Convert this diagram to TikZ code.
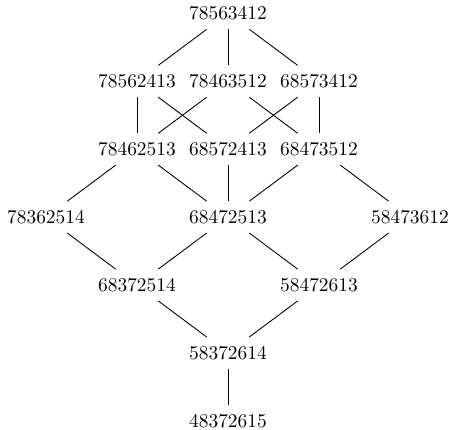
\documentclass[tikz,border=0pt]{standalone}
\begin{document}
\begin{tikzpicture}[x=46.9pt,y=-35pt,
  perm/.style={inner sep=4.5pt,font=\normalsize},
  link/.style={line width=0.45pt}]
\useasboundingbox (-23.7pt,6.9pt) rectangle (207.7pt,-214.7pt);
\node[perm] (a) at (2,0) {78563412};
\node[perm] (b1) at (1,1) {78562413};
\node[perm] (b2) at (2,1) {78463512};
\node[perm] (b3) at (3,1) {68573412};
\node[perm] (c1) at (1,2) {78462513};
\node[perm] (c2) at (2,2) {68572413};
\node[perm] (c3) at (3,2) {68473512};
\node[perm] (d1) at (0,3) {78362514};
\node[perm] (d2) at (2,3) {68472513};
\node[perm] (d3) at (4,3) {58473612};
\node[perm] (e1) at (1,4) {68372514};
\node[perm] (e2) at (3,4) {58472613};
\node[perm] (f) at (2,5) {58372614};
\node[perm] (g) at (2,6) {48372615};
\draw[link] (a) -- (b1);
\draw[link] (a) -- (b2);
\draw[link] (a) -- (b3);
\draw[link] (b1) -- (c1);
\draw[link] (b1) -- (c2);
\draw[link] (b2) -- (c1);
\draw[link] (b2) -- (c3);
\draw[link] (b3) -- (c2);
\draw[link] (b3) -- (c3);
\draw[link] (c1) -- (d1);
\draw[link] (c1) -- (d2);
\draw[link] (c2) -- (d2);
\draw[link] (c3) -- (d2);
\draw[link] (c3) -- (d3);
\draw[link] (d1) -- (e1);
\draw[link] (d2) -- (e1);
\draw[link] (d2) -- (e2);
\draw[link] (d3) -- (e2);
\draw[link] (e1) -- (f);
\draw[link] (e2) -- (f);
\draw[link] (f) -- (g);
\end{tikzpicture}
\end{document}
